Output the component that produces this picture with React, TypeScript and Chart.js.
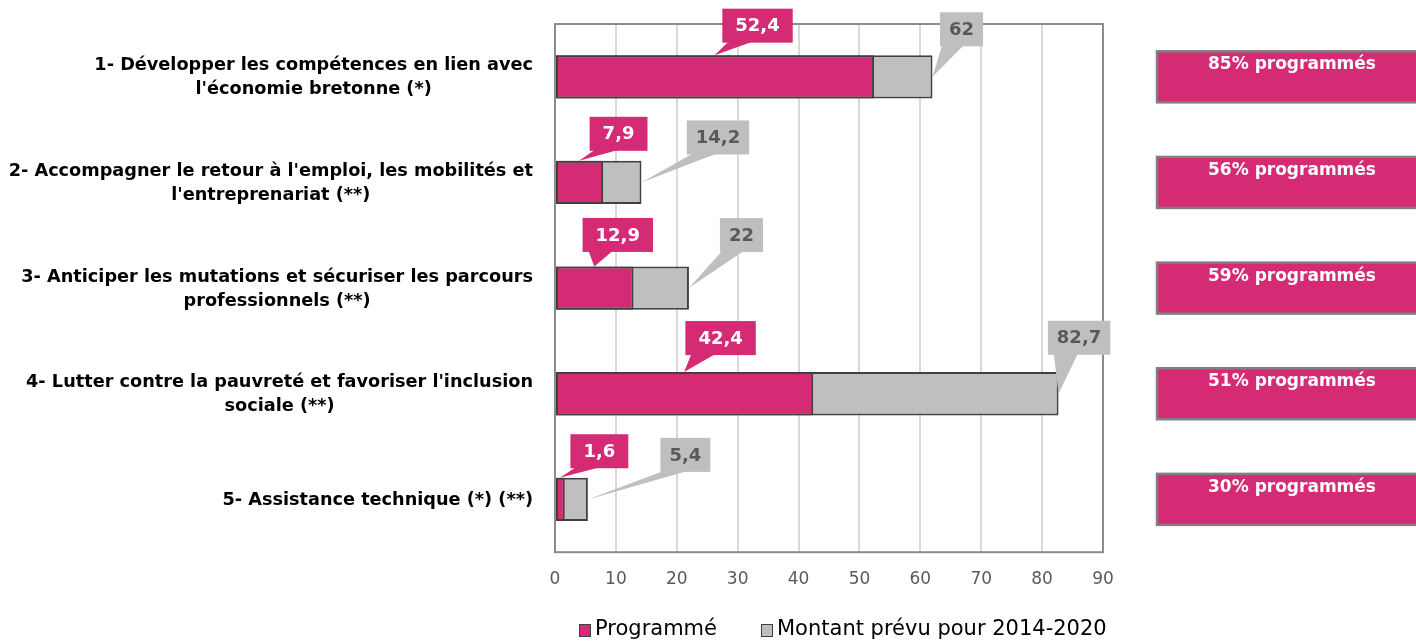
import { useEffect, useRef } from "react";
import { Chart, registerables } from "chart.js";

Chart.register(...registerables);

// ---------------- data ----------------
const categories: string[][] = [
  ["1- Développer les compétences en lien avec", "l'économie bretonne (*)"],
  ["2- Accompagner le retour à l'emploi, les mobilités et", "l'entreprenariat (**)"],
  ["3- Anticiper les mutations et sécuriser les parcours", "professionnels (**)"],
  ["4- Lutter contre la pauvreté et favoriser l'inclusion", "sociale (**)"],
  ["5- Assistance technique (*) (**)"],
];
const programme = [52.4, 7.9, 12.9, 42.4, 1.6];
const prevu = [62, 14.2, 22, 82.7, 5.4];
const seriesNames = ["Programmé", "Montant prévu pour 2014-2020"];
const sharePct = [85, 56, 59, 51, 30];
const shareSuffix = "% programmés";
const xMin = 0;
const xMax = 90;
const xStep = 10;

// ---------------- layout / style ----------------
const PINK = "#D42B74";
const GREY = "#BFBFBF";
const BAR_BORDER = "#404040";
const FRAME = "#8C8C8C";
const FONT = "'DejaVu Sans', sans-serif";
// offsets (px) of each callout centre from its anchor point
const pinkOffsets = [[43, -29.5], [39.5, -27], [23.5, -31.5], [36.5, -34], [39.5, -26.5]];
const greyOffsets = [[29, -47.5], [76.5, -45], [52.5, -53], [20.5, -56], [97.5, -44.5]];

const fmt = (v: number) => String(v).replace(".", ",");

function callout(
  ctx: CanvasRenderingContext2D,
  text: string,
  cx: number,
  cy: number,
  tipX: number,
  tipY: number,
  fill: string,
  color: string,
  padX: number
) {
  ctx.save();
  ctx.font = `bold 18px ${FONT}`;
  const tw = ctx.measureText(text).width;
  const w = tw + padX * 2;
  const h = 34;
  const left = cx - w / 2;
  const top = cy - h / 2;
  const bottom = top + h;
  const inset = Math.min(18, w * 0.3);
  const bc = Math.max(left + inset, Math.min(tipX, left + w - inset));
  const hw = Math.min(12, w * 0.25);
  ctx.fillStyle = fill;
  ctx.fillRect(left, top, w, h);
  ctx.beginPath();
  ctx.moveTo(bc - hw, bottom - 1);
  ctx.lineTo(tipX, tipY);
  ctx.lineTo(bc + hw, bottom - 1);
  ctx.closePath();
  ctx.fill();
  ctx.fillStyle = color;
  ctx.textAlign = "center";
  ctx.textBaseline = "middle";
  ctx.fillText(text, cx, cy + 1);
  ctx.restore();
}

const overlay = {
  id: "overlay",
  beforeDatasetsDraw(chart: any) {
    const { ctx, chartArea: a } = chart;
    ctx.save();
    ctx.strokeStyle = FRAME;
    ctx.lineWidth = 2;
    ctx.strokeRect(a.left, a.top, a.right - a.left, a.bottom - a.top);
    ctx.restore();
  },
  afterDatasetsDraw(chart: any) {
    const { ctx } = chart;
    const xs = chart.scales.x;
    const metaP = chart.getDatasetMeta(0);
    const metaG = chart.getDatasetMeta(1);

    // category labels (block right-aligned, lines centred)
    ctx.save();
    ctx.font = `bold 17.7px ${FONT}`;
    ctx.fillStyle = "#000";
    ctx.textAlign = "center";
    ctx.textBaseline = "middle";
    categories.forEach((lines, i) => {
      const cy = metaP.data[i].y;
      const bw = Math.max(...lines.map((l) => ctx.measureText(l).width));
      const cx = 533 - bw / 2;
      const lh = 24;
      lines.forEach((l, j) => {
        ctx.fillText(l, cx, cy + 1 + (j - (lines.length - 1) / 2) * lh);
      });
    });
    ctx.restore();

    // callouts
    programme.forEach((v, i) => {
      const el = metaP.data[i];
      const tipX = xs.getPixelForValue(v / 2);
      const tipY = el.y - el.height / 2;
      callout(ctx, fmt(v), tipX + pinkOffsets[i][0], tipY + pinkOffsets[i][1], tipX, tipY, PINK, "#FFFFFF", 13);
    });
    prevu.forEach((v, i) => {
      const el = metaG.data[i];
      const tipX = xs.getPixelForValue(v);
      const tipY = el.y;
      callout(ctx, fmt(v), tipX + greyOffsets[i][0], tipY + greyOffsets[i][1], tipX, tipY, GREY, "#595959", 9);
    });

    // right-hand share boxes
    ctx.save();
    sharePct.forEach((p, i) => {
      const cy = metaP.data[i].y;
      ctx.fillStyle = PINK;
      ctx.fillRect(1157, cy - 25.5, 280, 51);
      ctx.strokeStyle = "#808080";
      ctx.lineWidth = 2.5;
      ctx.strokeRect(1157, cy - 25.5, 280, 51);
      ctx.fillStyle = "#FFFFFF";
      ctx.font = `bold 17px ${FONT}`;
      ctx.textAlign = "center";
      ctx.textBaseline = "middle";
      ctx.fillText(p + shareSuffix, 1292, cy - 12);
    });
    ctx.restore();

    // legend
    ctx.save();
    const ly = 630;
    const items = [
      { x: 579, color: PINK, text: seriesNames[0] },
      { x: 761, color: GREY, text: seriesNames[1] },
    ];
    ctx.font = `21px ${FONT}`;
    ctx.textBaseline = "middle";
    ctx.textAlign = "left";
    items.forEach((it) => {
      ctx.fillStyle = it.color;
      ctx.fillRect(it.x, ly - 6, 12, 13);
      ctx.strokeStyle = BAR_BORDER;
      ctx.lineWidth = 1;
      ctx.strokeRect(it.x + 0.5, ly - 5.5, 11, 12);
      ctx.fillStyle = "#000";
      ctx.fillText(it.text, it.x + 16, ly);
    });
    ctx.restore();
  },
};

export default function App() {
  const ref = useRef<HTMLCanvasElement>(null);
  useEffect(() => {
    const chart = new Chart(ref.current!, {
      type: "bar",
      data: {
        labels: categories.map((c) => c.join(" ")),
        datasets: [
          {
            label: seriesNames[0],
            data: programme,
            backgroundColor: PINK,
            borderColor: BAR_BORDER,
            borderWidth: 2,
            borderSkipped: false,
          },
          {
            label: seriesNames[1],
            data: prevu,
            backgroundColor: GREY,
            borderColor: BAR_BORDER,
            borderWidth: 2,
            borderSkipped: false,
          },
        ],
      },
      options: {
        indexAxis: "y",
        responsive: false,
        animation: false,
        datasets: { bar: { categoryPercentage: 1, barPercentage: 0.41 } },
        layout: { padding: { left: 555, right: 313, top: 24, bottom: 33.4 } },
        plugins: { legend: { display: false }, tooltip: { enabled: false } },
        scales: {
          x: {
            min: xMin,
            max: xMax,
            stacked: false,
            ticks: { stepSize: xStep, color: "#595959", font: { family: FONT, size: 17 }, padding: 17.5 },
            grid: { color: "#D9D9D9", lineWidth: 2, drawTicks: false },
            border: { display: false },
          },
          y: {
            display: false,
            stacked: true,
          },
        },
      },
      plugins: [overlay],
    } as any);
    return () => chart.destroy();
  }, []);
  return (
    <div style={{ position: "absolute", left: 0, top: 0, width: 1416, height: 641, background: "#fff" }}>
      <canvas ref={ref} width={1416} height={641} style={{ display: "block" }} />
    </div>
  );
}
